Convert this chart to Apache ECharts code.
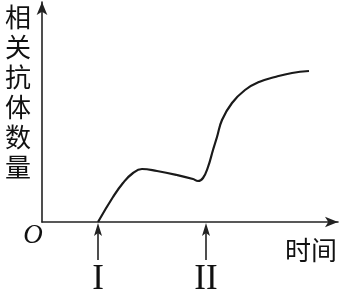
<!DOCTYPE html>
<html>
<head>
<meta charset="utf-8">
<script src="https://cdn.jsdelivr.net/npm/echarts@6/dist/echarts.min.js"></script>
<style>
html,body{margin:0;padding:0;background:#fff;}
#c{width:343px;height:293px;}
</style>
</head>
<body>
<div id="c"></div>
<script>
// Time (relative units) and antibody amount (relative units)
var timeValues = [56, 71, 81, 91, 100, 115, 135, 151, 156, 161, 166, 171, 175, 180, 190, 203, 217, 233, 250, 267];
var antibodyValues = [0, 25, 39, 49, 53, 51, 47, 43, 41, 44, 55, 72, 85, 102, 119, 132, 140, 145, 149, 151];
var injectionTimes = [56, 164];
var injectionLabels = ['I', 'II'];
var xAxisName = '时间';
var yAxisName = '相关抗体数量';
var originLabel = 'O';

var chart = echarts.init(document.getElementById('c'));
var data = timeValues.map(function (t, i) { return [t, antibodyValues[i]]; });
var axisColor = '#222';
chart.setOption({
  animation: false,
  backgroundColor: '#fff',
  grid: { left: 42, right: 5, top: 2, bottom: 71 },
  xAxis: {
    type: 'value', min: 0, max: 296,
    axisLine: { show: true, lineStyle: { color: axisColor, width: 1.6 }, symbol: ['none', 'arrow'], symbolSize: [8, 13] },
    axisTick: { show: false }, axisLabel: { show: false }, splitLine: { show: false }
  },
  yAxis: {
    type: 'value', min: 0, max: 220,
    axisLine: { show: true, lineStyle: { color: axisColor, width: 1.6 }, symbol: ['none', 'arrow'], symbolSize: [8, 13] },
    axisTick: { show: false }, axisLabel: { show: false }, splitLine: { show: false }
  },
  series: [{
    type: 'line', data: data, smooth: 0.45, showSymbol: false,
    lineStyle: { color: '#1a1a1a', width: 2.2 }
  }]
});

var g = [];
injectionTimes.forEach(function (t, i) {
  var top = chart.convertToPixel({ gridIndex: 0 }, [t, -1]);
  var bot = chart.convertToPixel({ gridIndex: 0 }, [t, -38]);
  var x = top[0];
  g.push({ type: 'line', shape: { x1: x, y1: bot[1], x2: x, y2: top[1] + 10 }, style: { stroke: axisColor, lineWidth: 1.6 } });
  g.push({ type: 'polygon', shape: { points: [[x, top[1]], [x - 4, top[1] + 13], [x, top[1] + 10], [x + 4, top[1] + 13]] }, style: { fill: axisColor } });
  g.push({ type: 'text', x: x, y: 280, style: { text: injectionLabels[i], font: '35px "Liberation Serif", serif', fill: '#111', align: 'center', verticalAlign: 'middle' } });
});
g.push({ type: 'text', x: 33, y: 236, style: { text: originLabel, font: 'italic 27px "Liberation Serif", serif', fill: '#111', align: 'center', verticalAlign: 'middle' } });
g.push({ type: 'text', x: 311, y: 250, style: { text: xAxisName, font: '26px "Noto Sans CJK SC", sans-serif', fill: '#111', align: 'center', verticalAlign: 'middle' } });
g.push({ type: 'text', x: 18, y: 2, style: { text: yAxisName.split('').join('\n'), font: '26px "Noto Sans CJK SC", sans-serif', lineHeight: 30, fill: '#111', align: 'center', verticalAlign: 'top' } });
chart.setOption({ graphic: g });
</script>
</body>
</html>
